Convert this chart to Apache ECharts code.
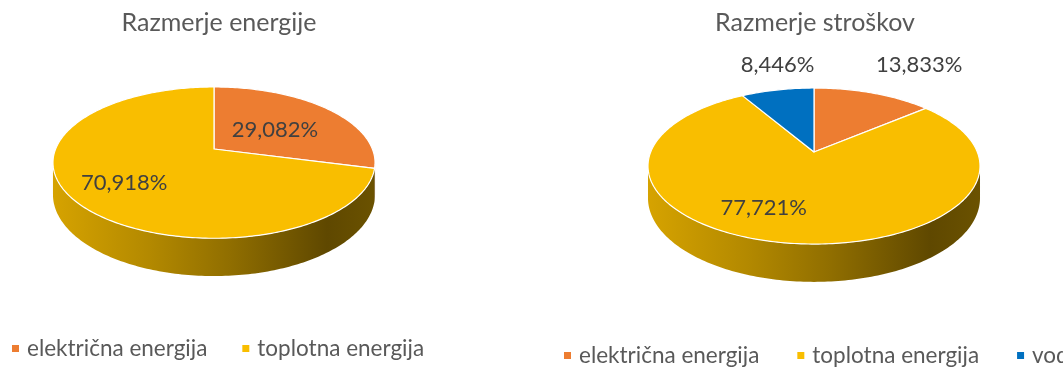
<!DOCTYPE html>
<html><head><meta charset="utf-8">
<script src="https://cdn.jsdelivr.net/npm/echarts@6/dist/echarts.min.js"></script>
<style>html,body{margin:0;padding:0;background:#fff;overflow:hidden}#c{width:1063px;height:370px}</style>
</head><body><div id="c"></div>
<script>
// ---- data ----
const titleLeft = 'Razmerje energije';
const titleRight = 'Razmerje stroškov';
const categoriesLeft = ['električna energija', 'toplotna energija'];
const valuesLeft = [29.082, 70.918];
const categoriesRight = ['električna energija', 'toplotna energija', 'voda'];
const valuesRight = [13.833, 77.721, 8.446];

// ---- styles ----
const colorOf = {
  'električna energija': '#ED7D31',
  'toplotna energija': '#F9BE00',
  'voda': '#0070C0'
};
const FONT = 'Lato';
const geomLeft  = { cx: 214, cy: 149, rx: 158.4, ry: 73.2, k: 0.18, depth: 31 };
const geomRight = { cx: 814, cy: 152, rx: 163.3, ry: 75.5, k: 0.18, depth: 31 };
const labelPosLeft  = [{ r: 0.55, dx: -4, dy: 4 }, { r: 0.65, dx: -2, dy: 3 }];
const labelPosRight = [{ r: 1, dx: 46, dy: -28 }, { r: 0.65, dx: -30, dy: 1 }, { r: 1, dx: 0, dy: -25 }];

function fmt(v) { return v.toFixed(3).replace('.', ',') + '%'; }
function proj(g, r, a) {
  const x = Math.sin(a) * r, z = Math.cos(a) * r;
  const s = 1 / (1 + g.k * z);
  return [g.cx + g.rx * x * s, g.cy - g.ry * z * s, s];
}
function shade(hex, f) {
  const n = parseInt(hex.slice(1), 16);
  const r = Math.round(((n >> 16) & 255) * f), gg = Math.round(((n >> 8) & 255) * f), b = Math.round((n & 255) * f);
  return 'rgb(' + r + ',' + gg + ',' + b + ')';
}
function angles(values) {
  const sum = values.reduce((a, b) => a + b, 0);
  let acc = 0;
  return values.map(v => { const a0 = acc / sum * 2 * Math.PI; acc += v; return [a0, acc / sum * 2 * Math.PI]; });
}
function arcPts(g, a0, a1) {
  const n = Math.max(2, Math.ceil((a1 - a0) / (Math.PI / 180)));
  const pts = [];
  for (let i = 0; i <= n; i++) { pts.push(proj(g, 1, a0 + (a1 - a0) * i / n)); }
  return pts;
}
function topRender(g, cats, vals, lpos) {
  const ang = angles(vals);
  return function (params, api) {
    const i = params.dataIndex;
    const [a0, a1] = ang[i];
    const c = proj(g, 0, 0);
    const pts = [[c[0], c[1]]].concat(arcPts(g, a0, a1).map(p => [p[0], p[1]]));
    const mid = (a0 + a1) / 2;
    const lp = lpos[i];
    const lc = proj(g, lp.r, mid);
    return {
      type: 'group',
      children: [
        { type: 'polygon', shape: { points: pts },
          style: { fill: colorOf[cats[i]], stroke: '#ffffff', lineWidth: 1.2, lineJoin: 'round' } },
        { type: 'text', z2: 10, x: lc[0] + lp.dx, y: lc[1] + lp.dy,
          style: { text: fmt(api.value(0)), fill: '#404040', font: '22px ' + FONT, align: 'center', verticalAlign: 'middle' } }
      ]
    };
  };
}
function sideRender(g, cats, vals) {
  const ang = angles(vals);
  const aL = Math.acos(-g.k), aR = 2 * Math.PI - aL;
  return function (params) {
    const i = params.dataIndex;
    const s0 = Math.max(ang[i][0], aL), s1 = Math.min(ang[i][1], aR);
    if (s1 <= s0) return { type: 'group', children: [] };
    const topA = arcPts(g, s0, s1);
    const pts = topA.map(p => [p[0], p[1]]);
    for (let j = topA.length - 1; j >= 0; j--) pts.push([topA[j][0], topA[j][1] + g.depth * topA[j][2]]);
    const base = colorOf[cats[i]];
    const grad = new echarts.graphic.LinearGradient(g.cx - g.rx * 1.02, 0, g.cx + g.rx * 1.02, 0, [
      { offset: 0, color: shade(base, 0.86) },
      { offset: 0.3, color: shade(base, 0.72) },
      { offset: 0.55, color: shade(base, 0.58) },
      { offset: 0.85, color: shade(base, 0.38) },
      { offset: 1, color: shade(base, 0.43) }
    ], true);
    return { type: 'polygon', shape: { points: pts }, style: { fill: grad } };
  };
}
function legendPie(cats, vals) {
  return { type: 'pie', radius: [0, 0], center: [-50, -50], silent: true, label: { show: false },
    data: cats.map((n, i) => ({ name: n, value: vals[i], itemStyle: { color: colorOf[n] } })) };
}
const legendBase = {
  orient: 'horizontal', icon: 'rect', itemWidth: 7, itemHeight: 7, itemGap: 35, padding: 0,
  selectedMode: false, width: 800,
  textStyle: { color: '#595959', fontFamily: FONT, fontSize: 22.5, padding: [0, 0, 0, 3] }
};
const chart = echarts.init(document.getElementById('c'), null, { renderer: 'canvas' });
chart.setOption({
  animation: false,
  title: [
    { text: titleLeft, left: 214, top: 5, textAlign: 'center',
      textStyle: { color: '#595959', fontFamily: FONT, fontSize: 25, fontWeight: 'normal' } },
    { text: titleRight, left: 810, top: 5, textAlign: 'center',
      textStyle: { color: '#595959', fontFamily: FONT, fontSize: 25, fontWeight: 'normal' } }
  ],
  legend: [
    Object.assign({}, legendBase, { data: categoriesLeft, left: 12, top: 337 }),
    Object.assign({}, legendBase, { data: categoriesRight, left: 564, top: 344, itemGap: 38 })
  ],
  series: [
    legendPie(categoriesLeft, valuesLeft),
    legendPie(categoriesRight, valuesRight),
    { type: 'custom', coordinateSystem: 'none', z: 2, silent: true, data: valuesLeft,
      renderItem: sideRender(geomLeft, categoriesLeft, valuesLeft) },
    { type: 'custom', coordinateSystem: 'none', z: 2, silent: true, data: valuesRight,
      renderItem: sideRender(geomRight, categoriesRight, valuesRight) },
    { type: 'custom', coordinateSystem: 'none', z: 3, silent: true, data: valuesLeft,
      renderItem: topRender(geomLeft, categoriesLeft, valuesLeft, labelPosLeft) },
    { type: 'custom', coordinateSystem: 'none', z: 3, silent: true, data: valuesRight,
      renderItem: topRender(geomRight, categoriesRight, valuesRight, labelPosRight) }
  ]
});
</script></body></html>
